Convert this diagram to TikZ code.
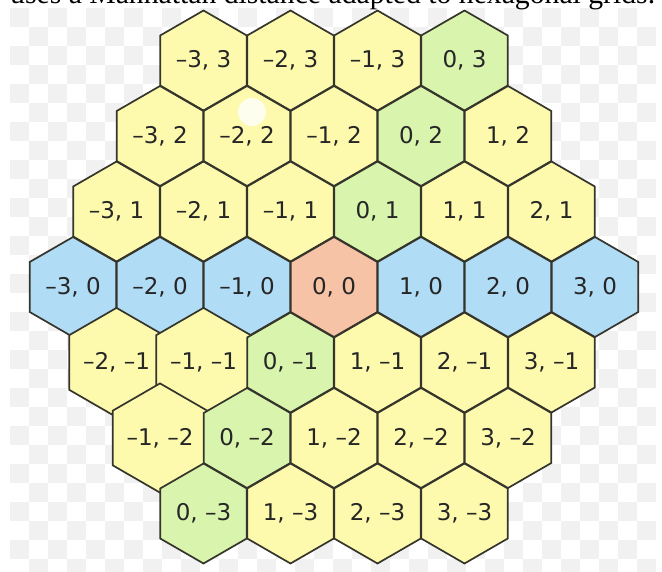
\documentclass[tikz,border=0pt]{standalone}
\usepackage{fontspec}
\usepackage{tikz}
\usetikzlibrary{shapes.geometric}
\newfontfamily\hexfont{DejaVu Sans}
\newfontfamily\capfont{Liberation Serif}
\definecolor{hexyellow}{HTML}{FDFAAE}
\definecolor{hexgreen}{HTML}{D8F4AD}
\definecolor{hexblue}{HTML}{B0DCF5}
\definecolor{hexsalmon}{HTML}{F7C3A7}
\definecolor{hexline}{HTML}{35352C}
\definecolor{checkgray}{HTML}{F1F1F1}

\begin{document}
\begin{tikzpicture}[
    x=1pt, y=1pt,
    hex/.style={draw=hexline, line width=1.7pt, regular polygon, regular polygon sides=6,
      shape border rotate=30, minimum size=100pt, inner sep=0pt,
      font=\hexfont\fontsize{23}{27}\selectfont, text=black!85},
    yel/.style={hex, fill=hexyellow},
    grn/.style={hex, fill=hexgreen},
    blu/.style={hex, fill=hexblue},
    org/.style={hex, fill=hexsalmon}
  ]
    \useasboundingbox (0,0) rectangle (662,571);
    \fill[white] (0,0) rectangle (662,571);

    \begin{scope}
      \clip (10,0) rectangle (656,563);
      \foreach \i in {0,2,...,32}
        \foreach \j in {0,2,...,28} {
          \fill[checkgray] (10+19*\i,544-19*\j) rectangle ++(19,19);
          \fill[checkgray] (29+19*\i,525-19*\j) rectangle ++(19,19);
        }
    \end{scope}

    \node[anchor=base west, inner sep=0pt, font=\capfont\fontsize{29.7}{32}\selectfont]
      (caption) at (10,567) {uses a Manhattan distance adapted to hexagonal grids.};

    \begin{scope}[shift={(334,284)}, x={(87pt,0pt)}, y={(43.5pt,75.5pt)}]
    \node[yel] (h-m3-3) at (-3,3) {–3, 3};
    \node[yel] (h-m2-3) at (-2,3) {–2, 3};
    \node[yel] (h-m1-3) at (-1,3) {–1, 3};
    \node[grn] (h-0-3) at (0,3) {0, 3};

    \node[yel] (h-m3-2) at (-3,2) {–3, 2};
    \node[yel] (h-m2-2) at (-2,2) {–2, 2};
    \node[yel] (h-m1-2) at (-1,2) {–1, 2};
    \node[grn] (h-0-2) at (0,2) {0, 2};
    \node[yel] (h-1-2) at (1,2) {1, 2};

    \node[yel] (h-m3-1) at (-3,1) {–3, 1};
    \node[yel] (h-m2-1) at (-2,1) {–2, 1};
    \node[yel] (h-m1-1) at (-1,1) {–1, 1};
    \node[grn] (h-0-1) at (0,1) {0, 1};
    \node[yel] (h-1-1) at (1,1) {1, 1};
    \node[yel] (h-2-1) at (2,1) {2, 1};

    \node[blu] (h-m3-0) at (-3,0) {–3, 0};
    \node[blu] (h-m2-0) at (-2,0) {–2, 0};
    \node[blu] (h-m1-0) at (-1,0) {–1, 0};
    \node[org] (h-0-0) at (0,0) {0, 0};
    \node[blu] (h-1-0) at (1,0) {1, 0};
    \node[blu] (h-2-0) at (2,0) {2, 0};
    \node[blu] (h-3-0) at (3,0) {3, 0};

    \node[yel] (h-m2-m1) at (-2,-1) {–2, –1};
    \node[yel] (h-m1-m1) at (-1,-1) {–1, –1};
    \node[grn] (h-0-m1) at (0,-1) {0, –1};
    \node[yel] (h-1-m1) at (1,-1) {1, –1};
    \node[yel] (h-2-m1) at (2,-1) {2, –1};
    \node[yel] (h-3-m1) at (3,-1) {3, –1};

    \node[yel] (h-m1-m2) at (-1,-2) {–1, –2};
    \node[grn] (h-0-m2) at (0,-2) {0, –2};
    \node[yel] (h-1-m2) at (1,-2) {1, –2};
    \node[yel] (h-2-m2) at (2,-2) {2, –2};
    \node[yel] (h-3-m2) at (3,-2) {3, –2};

    \node[grn] (h-0-m3) at (0,-3) {0, –3};
    \node[yel] (h-1-m3) at (1,-3) {1, –3};
    \node[yel] (h-2-m3) at (2,-3) {2, –3};
    \node[yel] (h-3-m3) at (3,-3) {3, –3};
    \end{scope}

    \fill[white, opacity=0.8] (252,459) circle (14);
  \end{tikzpicture}
\end{document}
